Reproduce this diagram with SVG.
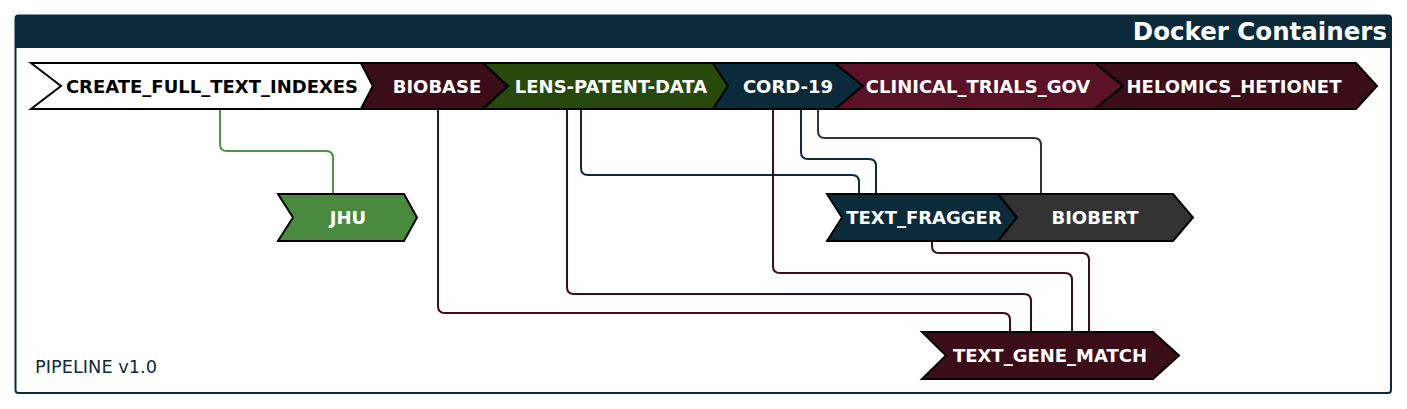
<svg xmlns="http://www.w3.org/2000/svg" width="1407" height="409" viewBox="0 0 1407 409">
<style>
.node polygon{stroke:#000;stroke-width:2;stroke-linejoin:miter}
.node text{font-family:"DejaVu Sans",sans-serif;font-weight:bold;font-size:18px;fill:#fff;text-anchor:middle}
.conn path{fill:none;stroke-width:2}
.red{stroke:#3b0d18}.blue{stroke:#0b2b3b}.green{stroke:#4f9446}.gray{stroke:#333}
</style>
<rect width="1407" height="409" fill="#fff"/>
<g id="frame">
<rect x="15.5" y="15.5" width="1375.5" height="377.5" rx="3" fill="#fff" stroke="#0b2b3b" stroke-width="2"/>
<path d="M15.5,48 V18.5 Q15.5,15.5 18.5,15.5 H1388 Q1391,15.5 1391,18.5 V48 Z" fill="#0b2b3b"/>
<text x="1387" y="40" font-family="DejaVu Sans,sans-serif" font-weight="bold" font-size="24.5" fill="#fff" text-anchor="end">Docker Containers</text>
<text x="35" y="372.5" font-family="DejaVu Sans,sans-serif" font-size="17.8" fill="#0b2b3b">PIPELINE v1.0</text>
</g>
<g id="connectors" class="conn">
<path class="green" d="M220,109 V144 Q220,151 227,151 H326 Q333,151 333,158 V194"/>
<path class="red" d="M438,109 V306 Q438,313 445,313 H1003 Q1010,313 1010,320 V332"/>
<path class="red" d="M567,109 V287 Q567,294 574,294 H1024 Q1031,294 1031,301 V332"/>
<path class="blue" d="M581,109 V168 Q581,175 588,175 H852 Q859,175 859,182 V194"/>
<path class="red" d="M773,109 V266 Q773,273 780,273 H1065 Q1072,273 1072,280 V332"/>
<path class="blue" d="M801,109 V152 Q801,159 808,159 H869 Q876,159 876,166 V194"/>
<path class="gray" d="M818,109 V131 Q818,138 825,138 H1034 Q1041,138 1041,145 V194"/>
<path class="red" d="M932,241 V246 Q932,253 939,253 H1082 Q1089,253 1089,260 V332"/>
</g>
<g id="create_full_text_indexes" class="node">
<polygon points="31,63 361,63 373,86 361,109 31,109 61,86" fill="#fff"/>
<text x="212" y="92.5" style="fill:#000">CREATE_FULL_TEXT_INDEXES</text>
</g>
<g id="biobase" class="node">
<polygon points="361,63 483,63 508,86 483,109 361,109 373,86" fill="#3b0d18"/>
<text x="437" y="92.5">BIOBASE</text>
</g>
<g id="lens-patent-data" class="node">
<polygon points="483,63 713,63 728,86 713,109 483,109 508,86" fill="#27490b"/>
<text x="611" y="92.5">LENS-PATENT-DATA</text>
</g>
<g id="cord-19" class="node">
<polygon points="713,63 835,63 863,86 835,109 713,109 728,86" fill="#0b2b3b"/>
<text x="788" y="92.5">CORD-19</text>
</g>
<g id="clinical_trials_gov" class="node">
<polygon points="835,63 1095,63 1123,86 1095,109 835,109 863,86" fill="#5b1229"/>
<text x="978" y="92.5">CLINICAL_TRIALS_GOV</text>
</g>
<g id="helomics_hetionet" class="node">
<polygon points="1095,63 1356,63 1377,86 1356,109 1095,109 1123,86" fill="#3b0d18"/>
<text x="1234" y="92.5">HELOMICS_HETIONET</text>
</g>
<g id="jhu" class="node">
<polygon points="278,194 404,194 417,217.5 404,241 278,241 293,217.5" fill="#4a8a3f"/>
<text x="348" y="224">JHU</text>
</g>
<g id="text_fragger" class="node">
<polygon points="827,194 998,194 1017,217.5 998,241 827,241 842,217.5" fill="#0b2b3b"/>
<text x="924" y="224">TEXT_FRAGGER</text>
</g>
<g id="biobert" class="node">
<polygon points="998,194 1173,194 1193,217.5 1173,241 998,241 1017,217.5" fill="#333"/>
<text x="1095" y="224">BIOBERT</text>
</g>
<g id="text_gene_match" class="node">
<polygon points="922,332 1153,332 1179,355.5 1153,379 922,379 946,355.5" fill="#3b0d18"/>
<text x="1050" y="362">TEXT_GENE_MATCH</text>
</g>
</svg>
